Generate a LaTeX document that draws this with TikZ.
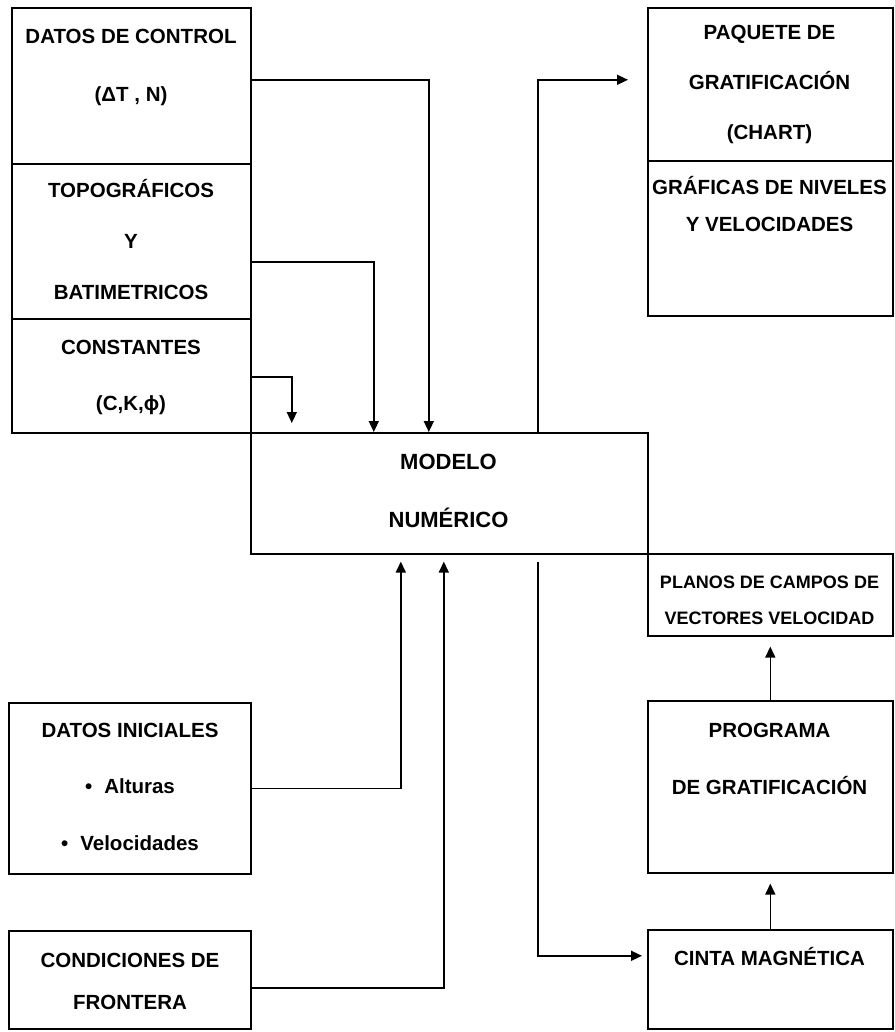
\documentclass[tikz,border=0pt]{standalone}
\usepackage{fontspec}
\setmainfont{Liberation Sans}
\usetikzlibrary{arrows.meta, positioning}

\tikzset{
  blk/.style={draw, line width=1.6pt, rectangle, inner sep=0pt, anchor=north west},
  txt/.style={font=\fontsize{20.5}{#1}\selectfont\bfseries, align=center, inner sep=0pt, anchor=base},
  txt/.default=25,
  flow/.style={line width=1.6pt, -{Triangle[length=11pt,width=10pt]}},
}

\begin{document}
\begin{tikzpicture}[x=1pt, y=-1pt]
    \useasboundingbox (0,0) rectangle (894,1032);

    % input boxes
    \node (ctrl)  [blk, minimum width=239, minimum height=156] at (11,7) {};
    \node (topo)  [blk, minimum width=239, minimum height=155] at (11,163) {};
    \node (const) [blk, minimum width=239, minimum height=114] at (11,318) {};
    \node (ini)   [blk, minimum width=242, minimum height=171] at (8,702) {};
    \node (cond)  [blk, minimum width=242, minimum height=98]  at (8,930) {};

    % model
    \node (mod)   [blk, minimum width=397, minimum height=121] at (250,432) {};

    % output boxes
    \node (paq)    [blk, minimum width=245, minimum height=153] at (647,7) {};
    \node (graf)   [blk, minimum width=245, minimum height=155] at (647,160) {};
    \node (planos) [blk, minimum width=245, minimum height=82]  at (647,553) {};
    \node (prog)   [blk, minimum width=245, minimum height=172] at (647,700) {};
    \node (cinta)  [blk, minimum width=245, minimum height=99]  at (647,929) {};

    % texts (placed at the baseline of their last line)
    \node (ctrltxt)  [txt=58] at (131,102) {DATOS DE CONTROL\\(ΔT , N)};
    \node (topotxt)  [txt=51] at (131,299) {TOPOGRÁFICOS\\Y\\BATIMETRICOS};
    \node (consttxt) [txt=56] at (131,410) {CONSTANTES\\(C,K,ϕ)};
    \node (initxt)   [txt=56.5] at (130,850) {DATOS INICIALES\\\textbullet\hspace{12pt}Alturas\\\textbullet\hspace{12pt}Velocidades};
    \node (condtxt)  [txt=42] at (130,1009) {CONDICIONES DE\\FRONTERA};
    \node (modtxt)   [txt=58, font=\fontsize{22}{58}\selectfont\bfseries] at (448.5,527) {MODELO\\NUMÉRICO};
    \node (paqtxt)   [txt=50] at (769.5,140) {PAQUETE DE\\GRATIFICACIÓN\\(CHART)};
    \node (graftxt)  [txt=37] at (769.5,232) {GRÁFICAS DE NIVELES\\Y VELOCIDADES};
    \node (planotxt) [txt=36, font=\fontsize{18}{36}\selectfont\bfseries] at (769.5,624) {PLANOS DE CAMPOS DE\\VECTORES VELOCIDAD};
    \node (progtxt)  [txt=57] at (769.5,794) {PROGRAMA\\DE GRATIFICACIÓN};
    \node (cintatxt) [txt] at (769.5,965) {CINTA MAGNÉTICA};

\draw [flow] ([yshift=6]ctrl.east) -| ([xshift=-20.5]mod.north);
\draw [flow] ([yshift=-20.5]topo.east) -| ([xshift=-75.5]mod.north);
\draw [flow] ([yshift=-1]const.east) -| ([xshift=-157.5,yshift=9]mod.north);
\draw [flow] ([xshift=88.5]mod.north) |- ([xshift=-19,yshift=4.5]paq.west);
\draw [flow] ([xshift=88.5,yshift=-7]mod.south) |- ([xshift=-5,yshift=23.5]cinta.west);
\draw [flow] (ini.east) -| ([xshift=-48.5,yshift=-7]mod.south);
\draw [flow] ([yshift=-8]cond.east) -| ([xshift=-5.5,yshift=-7]mod.south);
\draw [flow] (cinta.north) -- ([yshift=-10]prog.south);
\draw [flow] (prog.north) -- ([yshift=-10]planos.south);

\end{tikzpicture}
\end{document}
